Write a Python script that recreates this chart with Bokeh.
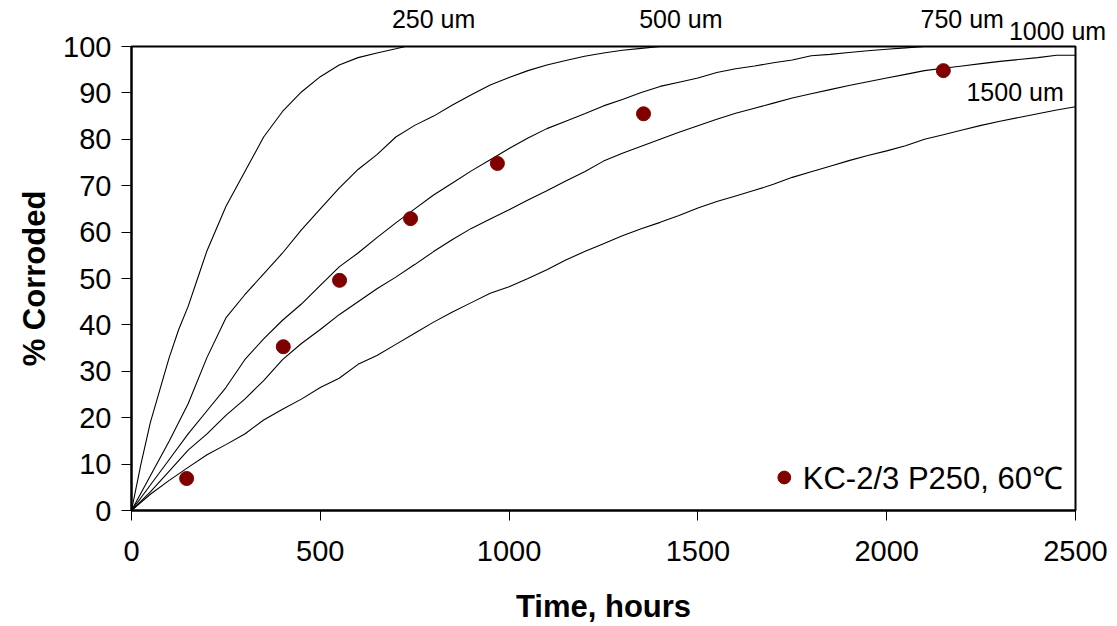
from bokeh.plotting import figure
from bokeh.models import (Range1d, Label, Legend, LegendItem, SingleIntervalTicker,
                          LinearAxis, FixedTicker)
from bokeh.embed import file_html
from bokeh.resources import INLINE

# ---- data ----
t_250 = [0, 25, 50, 75, 100, 125, 150, 175, 200, 250, 300, 350, 400, 450, 500, 550, 600, 650, 700, 725, 2500]
y_250 = [0, 10, 19, 26, 33, 39, 44, 50, 56, 65.5, 73, 80.5, 86, 90.2, 93.5, 96, 97.6, 98.6, 99.5, 100, 100]

t_500 = [0, 50, 100, 150, 200, 250, 300, 350, 400, 450, 500, 550, 600, 650, 700, 750, 800, 850,
         900, 950, 1000, 1050, 1100, 1150, 1200, 1250, 1300, 1350, 1400, 2500]
y_500 = [0, 7.5, 15, 23, 33, 41.5, 46.5, 51, 55.5, 60.5, 65, 69.5, 73.5, 76.7, 80.5, 83, 85, 87.4,
         89.6, 91.7, 93.3, 94.8, 96, 97, 97.9, 98.6, 99.2, 99.6, 100, 100]

t_750 = [0, 50, 100, 150, 200, 250, 300, 350, 400, 450, 500, 550, 600, 650, 700, 750, 800, 850,
         900, 950, 1000, 1050, 1100, 1150, 1200, 1250, 1300, 1350, 1400, 1450, 1500, 1550, 1600,
         1650, 1700, 1750, 1800, 1850, 1900, 1950, 2000, 2050, 2100, 2500]
y_750 = [0, 5.5, 11, 16.5, 21.5, 26.5, 32.5, 37, 41, 44.5, 48.5, 52.5, 55.5, 58.8, 62, 65, 68, 70.6,
         73.2, 75.6, 78, 80.3, 82.3, 83.9, 85.5, 87.2, 88.6, 90.1, 91.4, 92.3, 93.2, 94.4, 95.2,
         95.8, 96.5, 97.1, 98, 98.3, 98.7, 99.1, 99.4, 99.7, 100, 100]

t_1000 = [0, 50, 100, 150, 200, 250, 300, 350, 400, 450, 500, 550, 600, 650, 700, 750, 800, 850,
          900, 950, 1000, 1050, 1100, 1150, 1200, 1250, 1300, 1350, 1400, 1450, 1500, 1550, 1600,
          1650, 1700, 1750, 1800, 1850, 1900, 1950, 2000, 2050, 2100, 2150, 2200, 2250, 2300,
          2350, 2400, 2450, 2500]
y_1000 = [0, 4, 8.5, 13, 16.5, 20.5, 24, 28, 32.5, 36, 39, 42.2, 45, 47.8, 50.3, 53, 55.8, 58.4,
          60.8, 62.8, 64.8, 66.9, 68.9, 71, 73, 75.3, 77, 78.5, 80, 81.5, 82.9, 84.3, 85.6,
          86.7, 87.8, 88.9, 89.8, 90.7, 91.6, 92.4, 93.2, 94, 94.8, 95.3, 95.8, 96.3, 96.8,
          97.2, 97.6, 98.1, 98.1]

t_1500 = t_1000
y_1500 = [0, 3.5, 6.5, 9.3, 12, 14.2, 16.5, 19.5, 21.8, 24, 26.5, 28.5, 31.5, 33.4, 35.8, 38.2, 40.6, 42.8,
          44.8, 46.8, 48.2, 50, 51.9, 54, 55.8, 57.5, 59.2, 60.7, 62.1, 63.6, 65.2, 66.6, 67.8,
          69, 70.3, 71.8, 73, 74.2, 75.4, 76.5, 77.5, 78.6, 80, 81, 82, 83, 83.9,
          84.7, 85.5, 86.3, 87]

# curve labels above the plot area (centred on these hours)
top_labels = ["250 um", "500 um", "750 um"]
top_label_t = [800, 1455, 2200]
corner_label = "1000 um"
corner_label_t = 2470
inner_label = "1500 um"
inner_label_t, inner_label_y = 2340, 90.1

obs_t = [146, 402, 551, 739, 969, 1356, 2150]
obs_y = [6.9, 35.3, 49.6, 62.9, 74.8, 85.5, 94.8]
obs_name = "KC-2/3 P250, 60\u2103"

FONT = "Liberation Sans"
FRAME_W, FRAME_H = 944, 464
LEFT, TOP, W, H = 131, 46, 1109, 626

p = figure(width=W, height=H, output_backend="svg", toolbar_location=None,
           x_range=Range1d(0, 2500), y_range=Range1d(0, 100),
           min_border_left=LEFT, min_border_right=W - LEFT - FRAME_W,
           min_border_top=TOP, min_border_bottom=H - TOP - FRAME_H)
p.grid.visible = False
p.outline_line_color = "black"
p.outline_line_width = 2
p.background_fill_color = "white"
p.border_fill_color = "white"

xax = p.below[0]
yax = p.left[0]

for t, y in [(t_250, y_250), (t_500, y_500), (t_750, y_750), (t_1000, y_1000), (t_1500, y_1500)]:
    p.line(t, y, line_color="black", line_width=1.1)

r = p.scatter(obs_t, obs_y, size=14, fill_color="#800000", line_color="#800000")

p.add_layout(Label(x=inner_label_t, y=inner_label_y, text=inner_label,
                   text_font=FONT, text_font_size="25px",
                   text_align="center", text_baseline="middle", text_color="black"))


def label_axis(ticks, names, standoff):
    ax = LinearAxis(ticker=FixedTicker(ticks=ticks),
                    major_label_overrides={t: n for t, n in zip(ticks, names)})
    ax.axis_line_color = None
    ax.major_tick_line_color = None
    ax.minor_tick_line_color = None
    ax.major_tick_out = 0
    ax.major_tick_in = 0
    ax.major_label_standoff = standoff
    ax.major_label_text_font = FONT
    ax.major_label_text_font_size = "25px"
    ax.major_label_text_color = "black"
    return ax


p.add_layout(label_axis([corner_label_t], [corner_label], 2), "above")
p.add_layout(label_axis(top_label_t, top_labels, -19), "above")

legend = Legend(items=[LegendItem(label=obs_name, renderers=[r])], location="bottom_right",
                label_text_font=FONT, label_text_font_size="31px", label_text_color="black",
                border_line_alpha=0, background_fill_alpha=0,
                glyph_width=32, glyph_height=32, label_standoff=3, margin=6, padding=6)
p.add_layout(legend)

xax.ticker = SingleIntervalTicker(interval=500)
yax.ticker = SingleIntervalTicker(interval=10)
for ax in [xax, yax]:
    ax.axis_line_width = 2
    ax.axis_line_color = "black"
    ax.major_tick_in = 0
    ax.major_tick_out = 10
    ax.major_tick_line_color = "black"
    ax.minor_tick_line_color = None
    ax.major_label_text_font = FONT
    ax.major_label_text_font_size = "29px"
    ax.major_label_text_color = "black"
    ax.axis_label_text_font = FONT
    ax.axis_label_text_font_size = "31px"
    ax.axis_label_text_font_style = "bold"
    ax.axis_label_text_color = "black"

xax.axis_label = "Time, hours"
yax.axis_label = "% Corroded"
xax.major_label_standoff = 20
yax.major_label_standoff = 10
xax.axis_label_standoff = 25
yax.axis_label_standoff = 8

open("out.html", "w").write(file_html(p, INLINE))
